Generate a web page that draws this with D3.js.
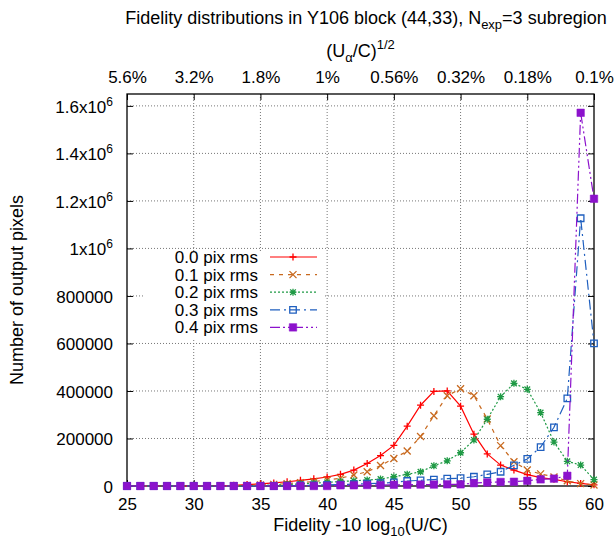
<!DOCTYPE html>
<html>
<head>
<meta charset="utf-8">
<script src="https://cdn.jsdelivr.net/npm/d3@7"></script>
<style>
  html, body { margin: 0; padding: 0; background: #fff; }
  svg { display: block; }
  text { font-family: "Liberation Sans", Arial, Helvetica, sans-serif; fill: #000; }
</style>
</head>
<body>
<svg id="chart" width="614" height="541"></svg>
<script>
// ---------- data ----------
const fidelity = [25,26,27,28,29,30,31,32,33,34,35,36,37,38,39,40,41,42,43,44,45,46,47,48,49,50,51,52,53,54,55,56,57,58,59,60];
const seriesNames = ["0.0 pix rms", "0.1 pix rms", "0.2 pix rms", "0.3 pix rms", "0.4 pix rms"];
const rms00 = [0,0,0,0,0,0,500,1500,3000,6000,9000,13000,18000,24000,30000,38000,49000,67000,95000,128000,171000,252000,340000,398000,400000,336000,218000,135000,88000,67000,48000,35000,28000,18000,11000,5000];
const rms01 = [0,0,0,0,0,0,0,0,1000,2000,4000,7000,10000,14000,19000,25000,33000,46000,60000,86000,116000,147000,208000,296000,380000,409000,380000,282000,170000,102000,67000,51000,38000,22000,10000,4000];
const rms02 = [0,0,0,0,0,0,0,0,0,1000,2000,4000,6000,9000,12000,15000,19000,22000,25000,29000,39000,49000,60000,85000,106000,140000,194000,281000,376000,432000,407000,309000,185000,104000,88000,27000];
const rms03 = [0,0,0,0,0,0,0,0,0,0,0,0,1000,2000,3000,5000,6000,8000,10000,12000,15000,21000,24000,27000,31000,33000,39000,49000,60000,87000,114000,164000,247000,369000,1127000,600000];
const rms04 = [0,0,0,0,0,0,0,0,0,0,0,0,0,0,0,0,3000,3000,4000,4000,5000,5000,6000,6000,7000,7000,12000,15000,17000,18000,22000,28000,31000,43000,1571000,1209000];
const xTicks = [25,30,35,40,45,50,55,60];
const x2TickLabels = ["5.6%","3.2%","1.8%","1%","0.56%","0.32%","0.18%","0.1%"];
const yTicks = [0,200000,400000,600000,800000,1000000,1200000,1400000,1600000];
const colors = ["#ff0000", "#c8691e", "#1f9a45", "#1f5fbf", "#8c12cc"];
const dashes = [null, "4,5", "2,2", "10,4,2,4", "10,3,2,3,2,3"];
const markers = ["plus", "cross", "star", "square", "fsquare"];

// ---------- layout ----------
const svg = d3.select("#chart");
const L = 127, R = 594, T = 94, B = 486;
const x = d3.scaleLinear().domain([25, 60]).range([L, R]);
const y = d3.scaleLinear().domain([0, 1650000]).range([B, T]);
const FS = 17, LFS = 18;

// grid
const grid = svg.append("g").attr("stroke", "#777").attr("stroke-width", 1).attr("stroke-dasharray", "1,2");
xTicks.slice(1, -1).forEach(v => grid.append("line").attr("x1", x(v)).attr("x2", x(v)).attr("y1", T).attr("y2", B));
yTicks.slice(1).forEach(v => grid.append("line").attr("x1", L).attr("x2", R).attr("y1", y(v)).attr("y2", y(v)));

// legend background (opaque key)
svg.append("rect").attr("x", 143).attr("y", 251).attr("width", 180).attr("height", 87).attr("fill", "#fff");

// axes
const ax = svg.append("g").attr("transform", `translate(0,${B})`)
  .call(d3.axisBottom(x).tickValues(xTicks).tickSizeInner(-6).tickSizeOuter(0).tickPadding(12));
const ax2 = svg.append("g").attr("transform", `translate(0,${T})`)
  .call(d3.axisTop(x).tickValues(xTicks).tickFormat((d, i) => x2TickLabels[i]).tickSizeInner(-6).tickSizeOuter(0).tickPadding(11));
const ay = svg.append("g").attr("transform", `translate(${L},0)`)
  .call(d3.axisLeft(y).tickValues(yTicks).tickSizeInner(-6).tickSizeOuter(0).tickPadding(14)
    .tickFormat(d => d >= 1000000 ? (d / 1000000) + "x10" : String(d)));
const ay2 = svg.append("g").attr("transform", `translate(${R},0)`)
  .call(d3.axisRight(y).tickValues(yTicks).tickSizeInner(-6).tickSizeOuter(0).tickFormat(""));
[ax, ax2, ay, ay2].forEach(g => {
  g.select(".domain").remove();
  g.selectAll("line").attr("stroke", "#000");
  g.selectAll("text").attr("font-size", FS).attr("font-family", "Liberation Sans, Arial, sans-serif").attr("fill", "#000");
});
ay.selectAll(".tick text").filter(d => d >= 1000000).append("tspan").attr("dy", -7).attr("font-size", 12).text("6");
ay.selectAll(".tick text").attr("dy", "0.36em");

// frame
svg.append("rect").attr("x", L).attr("y", T).attr("width", R - L).attr("height", B - T)
  .attr("fill", "none").attr("stroke", "#000").attr("stroke-width", 1.3);

// markers
function markerPath(type, s) {
  const h = s / 2;
  switch (type) {
    case "plus": return `M${-h},0H${h}M0,${-h}V${h}`;
    case "cross": return `M${-h},${-h}L${h},${h}M${-h},${h}L${h},${-h}`;
    case "star": return `M${-h},0H${h}M0,${-h}V${h}M${-h*0.8},${-h*0.8}L${h*0.8},${h*0.8}M${-h*0.8},${h*0.8}L${h*0.8},${-h*0.8}`;
    case "square": case "fsquare": return `M${-h},${-h}H${h}V${h}H${-h}Z`;
  }
}

const allSeries = [rms00, rms01, rms02, rms03, rms04];
const line = d3.line().x((d, i) => x(fidelity[i])).y(d => y(d));
const plot = svg.append("g");
allSeries.forEach((vals, k) => {
  const g = plot.append("g");
  g.append("path").attr("d", line(vals)).attr("fill", "none").attr("stroke", colors[k])
    .attr("stroke-width", 1.2).attr("stroke-dasharray", dashes[k]);
  g.selectAll("path.m").data(vals).enter().append("path").attr("class", "m")
    .attr("transform", (d, i) => `translate(${x(fidelity[i])},${y(d)})`)
    .attr("d", markerPath(markers[k], markers[k] === "fsquare" ? 7.5 : (markers[k] === "square" ? 6.5 : 7)))
    .attr("fill", markers[k] === "fsquare" ? colors[k] : "none")
    .attr("stroke", colors[k]).attr("stroke-width", markers[k] === "fsquare" ? 0.5 : 1.3);
});

// legend
const lg = svg.append("g");
seriesNames.forEach((name, k) => {
  const cy = 257 + k * 17.6;
  lg.append("text").attr("x", 258).attr("y", cy + 6).attr("text-anchor", "end").attr("font-size", FS).text(name);
  lg.append("line").attr("x1", 270).attr("x2", 317).attr("y1", cy).attr("y2", cy)
    .attr("stroke", colors[k]).attr("stroke-width", 1.2).attr("stroke-dasharray", dashes[k]);
  lg.append("path").attr("transform", `translate(293,${cy})`)
    .attr("d", markerPath(markers[k], markers[k] === "fsquare" ? 7.5 : (markers[k] === "square" ? 6.5 : 7)))
    .attr("fill", markers[k] === "fsquare" ? colors[k] : "none")
    .attr("stroke", colors[k]).attr("stroke-width", markers[k] === "fsquare" ? 0.5 : 1.3);
});

// titles
const cx = (L + R) / 2;
const title = svg.append("text").attr("x", 366).attr("y", 24).attr("text-anchor", "middle").attr("font-size", LFS);
title.append("tspan").text("Fidelity distributions in Y106 block (44,33), N");
title.append("tspan").attr("dy", 5).attr("font-size", 13).text("exp");
title.append("tspan").attr("dy", -5).text("=3 subregion");

const t2 = svg.append("text").attr("x", cx).attr("y", 57).attr("text-anchor", "middle").attr("font-size", LFS);
t2.append("tspan").text("(U");
t2.append("tspan").attr("dy", 5).attr("font-size", 13).text("α");
t2.append("tspan").attr("dy", -5).text("/C)");
t2.append("tspan").attr("dy", -8).attr("font-size", 13).text("1/2");

const xl = svg.append("text").attr("x", cx).attr("y", 531).attr("text-anchor", "middle").attr("font-size", LFS);
xl.append("tspan").text("Fidelity -10 log");
xl.append("tspan").attr("dy", 5).attr("font-size", 13).text("10");
xl.append("tspan").attr("dy", -5).text("(U/C)");

svg.append("text").attr("transform", `translate(23,${(T + B) / 2}) rotate(-90)`)
  .attr("text-anchor", "middle").attr("font-size", LFS).text("Number of output pixels");
</script>
</body>
</html>
